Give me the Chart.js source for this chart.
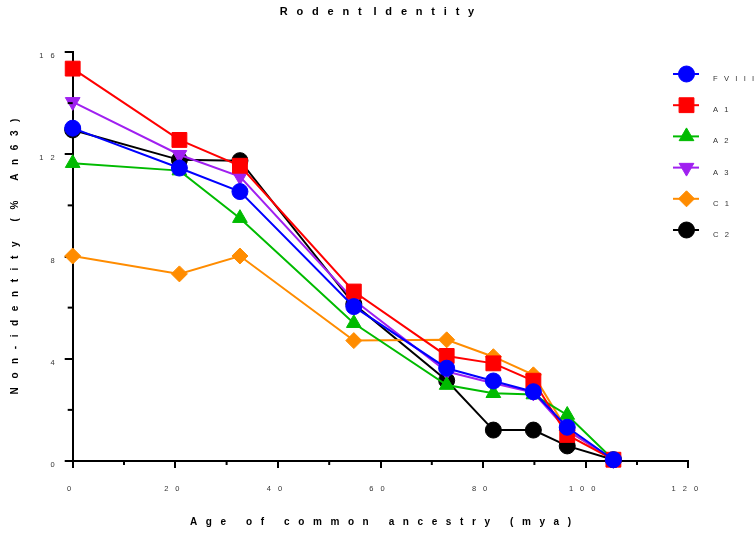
<!DOCTYPE html>
<html><head><meta charset="utf-8">
<script src="https://cdn.jsdelivr.net/npm/chart.js@4/dist/chart.umd.min.js"></script>
<style>html,body{margin:0;padding:0;background:#fff;overflow:hidden}canvas{display:block}</style>
</head><body>
<canvas id="c" width="754" height="537"></canvas>
<script>
// ---- data ----
const chartTitle = 'Rodent Identity';
const xAxisTitle = 'Age of common ancestry (mya)';
const yAxisTitle = 'Non-identity (% An63)';
const ages = [0, 20.8, 32.6, 54.8, 72.9, 82.0, 89.8, 96.4, 105.4];
const seriesNames = ['FVIII', 'A1', 'A2', 'A3', 'C1', 'C2'];
const fviii = [13.02, 11.46, 10.54, 6.04, 3.63, 3.13, 2.71, 1.32, 0.05];
const a1    = [15.35, 12.56, 11.55, 6.63, 4.11, 3.82, 3.14, 1.02, 0.05];
const a2    = [11.65, 11.36, 9.50, 5.39, 2.97, 2.65, 2.60, 1.80, 0.05];
const a3    = [14.05, 11.98, 11.13, 6.30, 3.50, 3.04, 2.68, 1.20, 0.05];
const c1    = [8.02, 7.32, 8.02, 4.71, 4.74, 4.08, 3.37, 1.20, 0.05];
const c2    = [12.95, 11.78, 11.75, 6.14, 3.15, 1.21, 1.21, 0.59, 0.05];
const xMajorTicks = [0, 20, 40, 60, 80, 100, 120];
const xMinorTicks = [10, 30, 50, 70, 90, 110];
const yMajorTicks = [0, 4, 8, 12, 16];
const yMinorTicks = [2, 6, 10, 14];

// ---- styles ----
const seriesValues = [fviii, a1, a2, a3, c1, c2];
const colors = ['#0000ff', '#ff0000', '#00bb00', '#a020f0', '#ff8c00', '#000000'];
const styles = ['circle', 'rect', 'triangle', 'triangle', 'rectRot', 'circle'];
const rotations = [0, 0, 0, 180, 0, 0];
const radii = [8, 10.5, 8.5, 8.5, 8, 8];
const FAM = '"Liberation Sans", Arial, sans-serif';

const canvas = document.getElementById('c');
const ctx = canvas.getContext('2d');

// letter-spaced text rendering
const origFill = CanvasRenderingContext2D.prototype.fillText;
const origMeasure = CanvasRenderingContext2D.prototype.measureText;
function spacingFor(font) {
  if (/bold/.test(font)) return /11px/.test(font) ? 8.8 : 8.6;
  if (/7\.5px/.test(font)) return 7;
  if (/7\.6px/.test(font)) return 6.3;
  return 0;
}
ctx.fillText = function (text, x, y) {
  text = String(text);
  const s = spacingFor(this.font);
  if (!s) return origFill.call(this, text, x, y);
  const bold = /bold/.test(this.font);
  const collapse = /11px/.test(this.font);
  const chars = Array.from(text);
  const ws = chars.map(ch => origMeasure.call(this, ch).width);
  const gaps = chars.map((ch, i) => (collapse && ch === ' ') ? 0 : s);
  if (bold) gaps[gaps.length - 1] = 0;
  const total = ws.reduce((a, b) => a + b, 0) + gaps.reduce((a, b) => a + b, 0);
  const al = this.textAlign;
  let start = x;
  if (al === 'center') start = x - total / 2;
  else if (al === 'right' || al === 'end') start = x - total;
  this.save();
  this.textAlign = 'left';
  let cx = start;
  for (let i = 0; i < chars.length; i++) { origFill.call(this, chars[i], cx, y); cx += ws[i] + gaps[i]; }
  this.restore();
};

function drawMarker(c, style, r, rot, x, y, color) {
  if (Chart.helpers && Chart.helpers.drawPoint) {
    c.save();
    c.fillStyle = color; c.strokeStyle = color; c.lineWidth = 1;
    Chart.helpers.drawPoint(c, {pointStyle: style, radius: r, rotation: rot, borderWidth: 1}, x, y);
    c.restore();
  }
}

const minorTicks = {
  id: 'minorTicks',
  afterDraw(chart) {
    const {ctx: c, scales: {x, y}, chartArea: a} = chart;
    c.save();
    c.strokeStyle = '#000'; c.lineWidth = 2;
    xMinorTicks.forEach(v => { const px = x.getPixelForValue(v); c.beginPath(); c.moveTo(px, a.bottom); c.lineTo(px, a.bottom + 4); c.stroke(); });
    yMinorTicks.forEach(v => { const py = y.getPixelForValue(v); c.beginPath(); c.moveTo(a.left - 5, py); c.lineTo(a.left, py); c.stroke(); });
    c.restore();
  }
};

const sideLegend = {
  id: 'sideLegend',
  afterDraw(chart) {
    const c = chart.ctx;
    chart.data.datasets.forEach((ds, i) => {
      const y = 74 + i * 31.2;
      c.save();
      c.strokeStyle = ds.borderColor; c.lineWidth = 2;
      c.beginPath(); c.moveTo(673, y); c.lineTo(699, y); c.stroke();
      drawMarker(c, ds.pointStyle, ds.pointRadius, ds.pointRotation, 686.5, y, ds.borderColor);
      c.fillStyle = '#333';
      c.font = '7.6px ' + FAM;
      c.textAlign = 'left'; c.textBaseline = 'middle';
      c.fillText(ds.label, 713, y + 5);
      c.restore();
    });
  }
};

const datasets = seriesNames.map((name, i) => ({
  label: name,
  data: ages.map((a, j) => ({x: a, y: seriesValues[i][j]})),
  borderColor: colors[i],
  backgroundColor: colors[i],
  pointBackgroundColor: colors[i],
  pointBorderColor: colors[i],
  pointBorderWidth: 1,
  borderWidth: 2,
  pointStyle: styles[i],
  pointRotation: rotations[i],
  pointRadius: radii[i],
  pointHoverRadius: radii[i],
  tension: 0,
  clip: false
}));

new Chart(ctx, {
  type: 'line',
  data: {datasets},
  plugins: [minorTicks, sideLegend],
  options: {
    responsive: false,
    animation: false,
    events: [],
    layout: {padding: 0},
    plugins: {
      legend: {display: false},
      tooltip: {enabled: false},
      title: {
        display: true, text: chartTitle, color: '#000',
        font: {family: FAM, size: 11, weight: 'bold'},
        padding: {top: 5, bottom: 33.8}
      }
    },
    scales: {
      x: {
        type: 'linear', min: 0, max: 120,
        afterFit(s) { s.height = 76; },
        afterBuildTicks(s) { s.ticks = xMajorTicks.map(v => ({value: v})); },
        border: {color: '#000', width: 2},
        grid: {drawOnChartArea: false, color: '#000', lineWidth: 2, tickLength: 7},
        ticks: {color: '#333', font: {family: FAM, size: 7.5}, padding: 16.5, maxRotation: 0, autoSkip: false},
        title: {display: true, text: xAxisTitle, color: '#000', font: {family: FAM, size: 10, weight: 'bold'}, padding: 9}
      },
      y: {
        type: 'linear', min: 0, max: 16,
        afterFit(s) { s.width = 72.7; },
        afterBuildTicks(s) { s.ticks = yMajorTicks.map(v => ({value: v})); },
        border: {color: '#000', width: 2},
        grid: {drawOnChartArea: false, color: '#000', lineWidth: 2, tickLength: 8},
        ticks: {color: '#333', font: {family: FAM, size: 7.5}, padding: 3, labelOffset: 4},
        title: {display: true, text: yAxisTitle, color: '#000', font: {family: FAM, size: 10, weight: 'bold'}, padding: 9}
      },
      legendSpace: {
        type: 'linear', position: 'right', min: 0, max: 1,
        afterFit(s) { s.width = 65.7; },
        grid: {display: false}, border: {display: false},
        ticks: {display: false}, title: {display: false}
      }
    }
  }
});
</script>
</body></html>
